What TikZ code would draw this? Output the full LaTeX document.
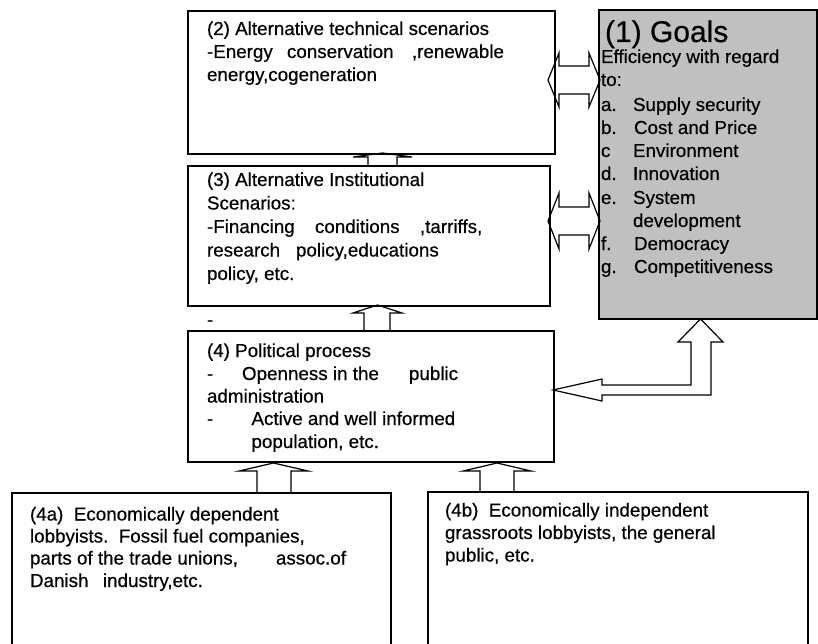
\documentclass[tikz,border=0pt]{standalone}
\usepackage{fontspec}
\setmainfont{Liberation Sans}[FakeBold=0.5]
% fixed-width slot for aligning words inside a line
\newcommand{\wbox}[2]{\makebox[#1pt][l]{#2}}
\begin{document}
\begin{tikzpicture}[x=1pt,y=-1pt,
  box/.style={draw,line width=1.2pt,anchor=north west,inner sep=0pt,outer sep=0pt},
  txt/.style={anchor=base west,inner sep=0pt,outer sep=0pt,font=\fontsize{18.8}{22}\selectfont},
  title/.style={anchor=base west,inner sep=0pt,outer sep=0pt,font=\fontsize{30}{34}\selectfont},
  blockarrow/.style={draw,line width=1.2pt,line join=miter}]
\useasboundingbox (0,0) rectangle (818,644);
\clip (0,0) rectangle (818,644);

% boxes
\node[box,minimum width=367pt,minimum height=143pt] (tech) at (188,11) {};
\node[box,minimum width=362pt,minimum height=140pt] (inst) at (188,166) {};
\node[box,minimum width=366pt,minimum height=131pt] (pol) at (188,331) {};
\node[box,fill={rgb,255:red,192;green,192;blue,192},minimum width=218pt,minimum height=309pt] (goals) at (599,10) {};
\node[box,minimum width=379pt,minimum height=200pt] (dep) at (12,493) {};
\node[box,minimum width=380pt,minimum height=200pt] (indep) at (428,492) {};

% (2) technical scenarios
\node[txt] (t2a) at (207,35) {(2) Alternative technical scenarios};
\node[txt] (t2b) at (207,58) {\wbox{80}{-Energy}\wbox{125}{conservation},renewable};
\node[txt] (t2c) at (207,81) {energy,cogeneration};

% (3) institutional scenarios
\node[txt] (t3a) at (207,186) {(3) Alternative Institutional};
\node[txt] (t3b) at (207,209.5) {Scenarios:};
\node[txt] (t3c) at (207,233) {\wbox{108}{-Financing}\wbox{105}{conditions},tarriffs,};
\node[txt] (t3d) at (207,256.5) {\wbox{89}{research}policy,educations};
\node[txt] (t3e) at (207,280) {policy, etc.};

% stray hyphen between (3) and (4)
\node[txt] (dash) at (207,326) {-};

% (4) political process
\node[txt] (t4a) at (207,357) {(4) Political process};
\node[txt] (t4b) at (207,380) {\wbox{35}{-}\wbox{167}{Openness in the}public};
\node[txt] (t4c) at (207,402.5) {administration};
\node[txt] (t4d) at (207,425) {\wbox{44.5}{-}Active and well informed};
\node[txt] (t4e) at (251.5,448) {population, etc.};

% (1) goals
\node[title] (g0) at (605,42) {(1) Goals};
\node[txt] (g1) at (601,63) {Efficiency with regard};
\node[txt] (g2) at (601,86) {to:};
\node[txt] (g3) at (601,111) {\wbox{32}{a.}Supply security};
\node[txt] (g4) at (601,134) {\wbox{33}{b.}Cost and Price};
\node[txt] (g5) at (601,157) {\wbox{32}{c}Environment};
\node[txt] (g6) at (601,180) {\wbox{32}{d.}Innovation};
\node[txt] (g7) at (601,204) {\wbox{32}{e.}System};
\node[txt] (g8) at (633,227) {development};
\node[txt] (g9) at (601,250) {\wbox{33}{f.}Democracy};
\node[txt] (g10) at (601,273) {\wbox{33}{g.}Competitiveness};

% (4a) dependent lobbyists
\node[txt] (a1) at (30,520.5) {(4a)~~Economically dependent};
\node[txt] (a2) at (30,542.5) {lobbyists.~~Fossil fuel companies,};
\node[txt] (a3) at (30,564.5) {\wbox{246}{parts of the trade unions,}assoc.of};
\node[txt] (a4) at (30,587) {\wbox{73}{Danish}industry,etc.};

% (4b) independent lobbyists
\node[txt] (b1) at (445,516.5) {(4b)~~Economically independent};
\node[txt] (b2) at (445,539) {grassroots lobbyists, the general};
\node[txt] (b3) at (445,561.5) {public, etc.};

% two-way block arrows between scenarios and goals
\draw[blockarrow] (548,80) -- (559,53) -- (559,66) -- (589,66) -- (589,53) -- (600,80)
  -- (589,107) -- (589,94) -- (559,94) -- (559,107) -- cycle;
\draw[blockarrow] (548,221) -- (559,193) -- (559,207) -- (589,207) -- (589,193) -- (600,221)
  -- (589,249) -- (589,235) -- (559,235) -- (559,249) -- cycle;

% upward block arrows
\draw[blockarrow] (382.5,153) -- (412,157) -- (397,157) -- (397,166) -- (368,166) -- (368,157) -- (353,157) -- cycle;
\draw[blockarrow] (377.5,305) -- (402,313) -- (390,313) -- (390,331) -- (364,331) -- (364,313) -- (353,313) -- cycle;
\draw[blockarrow] (273.5,463) -- (308,471) -- (291,471) -- (291,493) -- (257,493) -- (257,471) -- (239,471) -- cycle;
\draw[blockarrow] (497,463) -- (531,471) -- (514,471) -- (514,492) -- (480,492) -- (480,471) -- (463,471) -- cycle;

% elbow arrow between political process and goals
\draw[blockarrow] (700.5,319) -- (723,342) -- (711,342) -- (711,395) -- (602,395) -- (602,401)
  -- (553,390) -- (602,379) -- (602,385) -- (691,385) -- (691,342) -- (678,342) -- cycle;
\end{tikzpicture}
\end{document}
